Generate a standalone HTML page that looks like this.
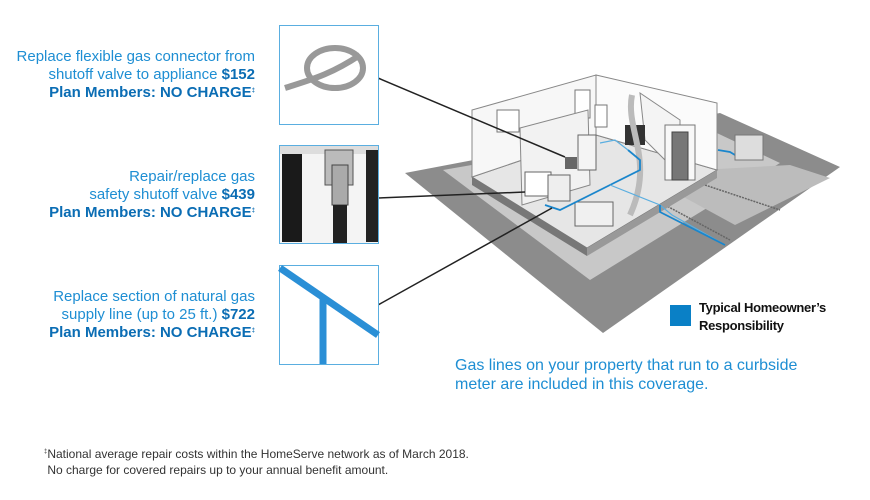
<!DOCTYPE html>
<html><head><meta charset="utf-8"><style>
body{margin:0;background:#fff;width:870px;height:500px;overflow:hidden;position:relative;font-family:"Liberation Sans",sans-serif}
.t{position:absolute;right:615px;text-align:right;color:#1e8ed3;font-size:15px;line-height:18px;white-space:nowrap}
.t b{color:#0b6db4}
.t sup{font-size:6px;vertical-align:top;position:relative;top:-2px}
.tx{position:absolute}
</style></head><body>
<svg width="870" height="500" style="position:absolute;left:0;top:0">
<!-- ground -->
<polygon points="405,173 720,113 840,167 603,333" fill="#8c8c8c"/>
<polygon points="443,170 700,125 780,163 590,280" fill="#c8c8c8"/>
<polygon points="700,170 790,165 830,178 735,225 680,195" fill="#bcbcbc"/>
<polyline points="705,185 780,210" stroke="#666" stroke-width="1.5" stroke-dasharray="2,1" fill="none"/>
<polyline points="665,205 730,240" stroke="#666" stroke-width="1.5" stroke-dasharray="2,1" fill="none"/>
<!-- floor & base -->
<polygon points="472,177 587,248 717,170 596,135" fill="#e6e6e6" stroke="#777"/>
<polygon points="472,177 587,248 587,256 472,185" fill="#777"/>
<polygon points="587,248 717,170 717,178 587,256" fill="#999"/>
<!-- back walls -->
<polygon points="472,177 472,110 596,75 596,135" fill="#f7f7f7" stroke="#888"/>
<polygon points="596,75 717,103 717,170 596,135" fill="#fbfbfb" stroke="#888"/>
<rect x="497" y="110" width="22" height="22" fill="#fff" stroke="#777"/>
<rect x="575" y="90" width="15" height="28" fill="#fff" stroke="#777"/>
<rect x="595" y="105" width="12" height="22" fill="#fff" stroke="#777"/>
<!-- interior partition -->
<polygon points="520,128 588,110 590,185 522,205" fill="#f2f2f2" stroke="#888"/>
<polygon points="640,93 645,140 680,175 680,120" fill="#f4f4f4" stroke="#888"/>
<rect x="665" y="125" width="30" height="55" fill="#f8f8f8" stroke="#777"/>
<rect x="672" y="132" width="16" height="48" fill="#777" stroke="#444"/>
<rect x="525" y="172" width="26" height="24" fill="#fff" stroke="#666"/>
<rect x="548" y="175" width="22" height="26" fill="#eee" stroke="#666"/>
<rect x="578" y="135" width="18" height="35" fill="#f4f4f4" stroke="#666"/>
<rect x="565" y="157" width="12" height="12" fill="#666"/>
<rect x="625" y="125" width="20" height="20" fill="#333"/>
<rect x="575" y="202" width="38" height="24" fill="#f0f0f0" stroke="#666"/>
<path d="M632,95 C625,130 655,160 630,215" stroke="#bbb" stroke-width="6" fill="none"/>
<!-- pipes -->
<polyline points="545,205 560,210 610,185 640,170 640,160 628,150" stroke="#1a86cc" stroke-width="1.8" fill="none"/>
<polyline points="600,143 615,140 628,150" stroke="#5aaee0" stroke-width="1.2" fill="none"/>
<polyline points="610,185 660,205 672,215 725,245" stroke="#5aaee0" stroke-width="1.2" fill="none"/>
<polyline points="660,205 660,212 725,245" stroke="#1a86cc" stroke-width="1.8" fill="none"/>
<polyline points="718,150 730,152 735,155" stroke="#1a86cc" stroke-width="1.8" fill="none"/>
<rect x="735" y="135" width="28" height="25" fill="#ddd" stroke="#777"/>
<rect x="670" y="305" width="21" height="21" fill="#0a80c6"/>
<line x1="378" y1="78" x2="565" y2="157" stroke="#222" stroke-width="1.5"/>
<line x1="378" y1="198" x2="525" y2="192" stroke="#222" stroke-width="1.5"/>
<line x1="378" y1="305" x2="552" y2="208" stroke="#222" stroke-width="1.5"/>
<rect x="279.5" y="25.5" width="99" height="99" fill="#fff" stroke="#5aaee0"/>
<ellipse cx="335" cy="68" rx="28" ry="20" fill="none" stroke="#999" stroke-width="6"/>
<path d="M285,88 C310,80 330,75 360,55" stroke="#999" stroke-width="6" fill="none"/>
<rect x="279.5" y="145.5" width="99" height="98" fill="#f4f4f4" stroke="#5aaee0"/>
<rect x="282" y="150" width="20" height="92" fill="#1a1a1a"/>
<rect x="280" y="146" width="98" height="8" fill="#ddd"/>
<rect x="366" y="150" width="12" height="92" fill="#222"/>
<rect x="325" y="150" width="28" height="35" fill="#bbb" stroke="#555"/>
<rect x="332" y="165" width="16" height="40" fill="#aaa" stroke="#444"/>
<rect x="333" y="205" width="14" height="38" fill="#222"/>
<rect x="279.5" y="265.5" width="99" height="99" fill="#fff" stroke="#5aaee0"/>
<line x1="280" y1="268" x2="378" y2="335" stroke="#2a8fd6" stroke-width="7"/>
<line x1="323" y1="297" x2="323" y2="364" stroke="#2a8fd6" stroke-width="7"/>
</svg>
<div class="t" style="top:48px">Replace flexible gas connector from<br>shutoff valve to appliance <b>$152</b><br><b>Plan Members: NO CHARGE<sup>‡</sup></b></div>
<div class="t" style="top:168px">Repair/replace gas<br>safety shutoff valve <b>$439</b><br><b>Plan Members: NO CHARGE<sup>‡</sup></b></div>
<div class="t" style="top:288px">Replace section of natural gas<br>supply line (up to 25 ft.) <b>$722</b><br><b>Plan Members: NO CHARGE<sup>‡</sup></b></div>
<div class="tx" style="left:699px;top:299px;font-size:13px;line-height:18px;font-weight:bold;color:#111;letter-spacing:-0.3px">Typical Homeowner’s<br>Responsibility</div>
<div class="tx" style="left:455px;top:356px;font-size:16px;line-height:19px;color:#1e8ed3">Gas lines on your property that run to a curbside<br>meter are included in this coverage.</div>
<div class="tx" style="left:44px;top:444px;font-size:12px;line-height:16px;color:#333"><sup style="font-size:6px">‡</sup>National average repair costs within the HomeServe network as of March 2018.<br>&nbsp;No charge for covered repairs up to your annual benefit amount.</div>
</body></html>
